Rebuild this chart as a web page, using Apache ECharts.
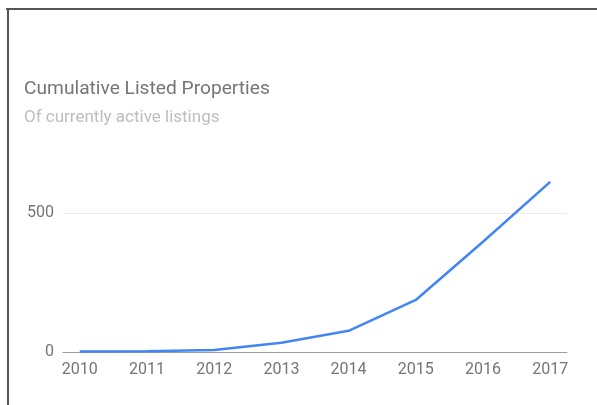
<!DOCTYPE html>
<html>
<head>
<meta charset="utf-8">
<script src="https://cdn.jsdelivr.net/npm/echarts@6/dist/echarts.min.js"></script>
<style>
html,body{margin:0;padding:0;background:#fff;}
#chart{width:597px;height:405px;}
</style>
</head>
<body>
<div id="chart"></div>
<script>
const years = [2010, 2011, 2012, 2013, 2014, 2015, 2016, 2017];
const listings = [2, 3, 7, 33, 76, 187, 396, 611];
const yTickLabels = [0, 500];
const titleText = 'Cumulative Listed Properties';
const subtitleText = 'Of currently active listings';

const chart = echarts.init(document.getElementById('chart'), null, {renderer: 'canvas'});
const seriesData = years.map((y, i) => [y, listings[i]]);

chart.setOption({
  animation: false,
  backgroundColor: '#ffffff',
  graphic: [
    {type: 'line', shape: {x1: 6, y1: 9, x2: 597, y2: 9}, style: {stroke: '#555555', lineWidth: 2}, silent: true},
    {type: 'line', shape: {x1: 8, y1: 8, x2: 8, y2: 405}, style: {stroke: '#555555', lineWidth: 2}, silent: true}
  ],
  title: [
    {text: titleText, left: 19, top: 75, padding: 5,
     textStyle: {fontFamily: 'Roboto', fontSize: 19.2, fontWeight: 'normal', color: '#757575'}},
    {text: subtitleText, left: 19, top: 104, padding: 5,
     textStyle: {fontFamily: 'Roboto', fontSize: 17, fontWeight: 'normal', color: '#bdbdbd'}}
  ],
  grid: {left: 63, right: 30, top: 178, bottom: 53, containLabel: false},
  xAxis: {
    type: 'value',
    min: years[0] - 0.25,
    max: years[years.length - 1] + 0.25,
    interval: 0.25,
    axisLine: {show: true, lineStyle: {color: '#9e9e9e', width: 1}},
    axisTick: {show: false},
    splitLine: {show: false},
    axisLabel: {
      margin: 10,
      fontFamily: 'Roboto', fontSize: 16, color: '#757575',
      formatter: v => (years.indexOf(Math.round(v * 100) / 100) >= 0 ? String(Math.round(v)) : '')
    }
  },
  yAxis: {
    type: 'value',
    min: 0,
    max: 625,
    interval: 500,
    axisLine: {show: false},
    axisTick: {show: false},
    splitLine: {show: true, lineStyle: {color: ['rgba(0,0,0,0)', '#ebebeb', 'rgba(0,0,0,0)'], width: 1}},
    axisLabel: {
      margin: 9,
      fontFamily: 'Roboto', fontSize: 16, color: '#757575',
      formatter: v => (yTickLabels.indexOf(v) >= 0 ? String(v) : '')
    }
  },
  series: [{
    type: 'line',
    data: seriesData,
    showSymbol: false,
    symbol: 'none',
    smooth: false,
    lineStyle: {color: '#4285f4', width: 2.5},
    itemStyle: {color: '#4285f4'}
  }]
});
</script>
</body>
</html>
